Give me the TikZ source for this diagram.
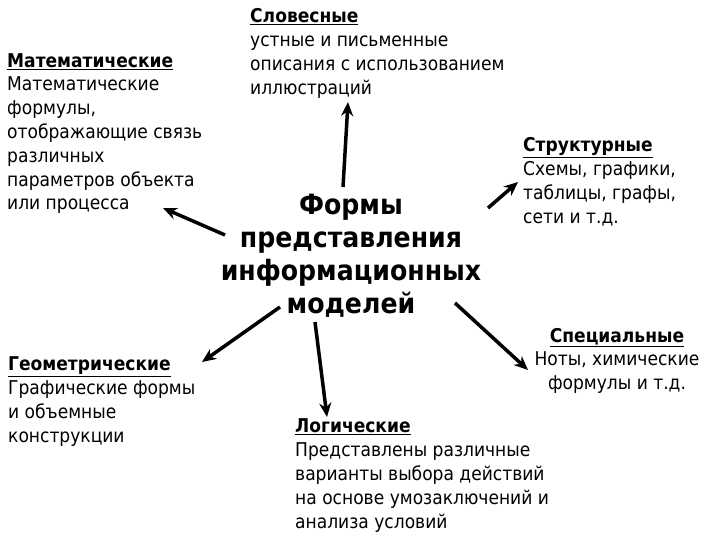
\documentclass[tikz,border=0pt]{standalone}
\usepackage{fontspec}
\setmainfont{DejaVu Sans Condensed}
\usetikzlibrary{arrows.meta}
\begin{document}
\begin{tikzpicture}[x=1pt,y=-1pt,
  blk/.style={anchor=base west, align=left, inner sep=0pt, font=\fontsize{19}{23.8}\selectfont},
  blkc/.style={anchor=base, align=center, inner sep=0pt, font=\fontsize{19}{23.8}\selectfont},
  ctr/.style={anchor=base, align=center, inner sep=0pt, font=\fontsize{28}{33}\selectfont\bfseries},
  arr/.style={line width=3.5pt, -{Stealth[length=14pt,width=12pt]}}]
\useasboundingbox (0,0) rectangle (720,540);
\node[ctr] (c) at (351,313) {Формы\\представления\\информационных\\моделей};
\node[blk] (mat) at (7,210) {\textbf{\underline{Математические}}\\Математические\\формулы,\\отображающие связь\\различных\\параметров объекта\\или процесса};
\node[blk] (slov) at (250,94.4) {\textbf{\underline{Словесные}}\\устные и письменные\\описания с использованием\\иллюстраций};
\node[blk] (str) at (523,223.4) {\textbf{\underline{Структурные}}\\Схемы, графики,\\таблицы, графы,\\сети и т.д.};
\node[blkc] (spec) at (617,389.6) {\textbf{\underline{Специальные}}\\Ноты, химические\\формулы и т.д.};
\node[blk] (geo) at (8,442) {\textbf{\underline{Геометрические}}\\Графические формы\\и объемные\\конструкции};
\node[blk] (log) at (295,528) {\textbf{\underline{Логические}}\\Представлены различные\\варианты выбора действий\\на основе умозаключений и\\анализа условий};
\coordinate (a1) at (225,235); \coordinate (b1) at (163,208);
\coordinate (a2) at (343,187); \coordinate (b2) at (348,102);
\coordinate (a3) at (488,208); \coordinate (b3) at (518,182);
\coordinate (a4) at (455,303); \coordinate (b4) at (528,370);
\coordinate (a5) at (315,322); \coordinate (b5) at (327,417);
\coordinate (a6) at (280,307); \coordinate (b6) at (202,362);
\draw[arr] (a1) -- (b1);
\draw[arr] (a2) -- (b2);
\draw[arr] (a3) -- (b3);
\draw[arr] (a4) -- (b4);
\draw[arr] (a5) -- (b5);
\draw[arr] (a6) -- (b6);
\end{tikzpicture}
\end{document}
